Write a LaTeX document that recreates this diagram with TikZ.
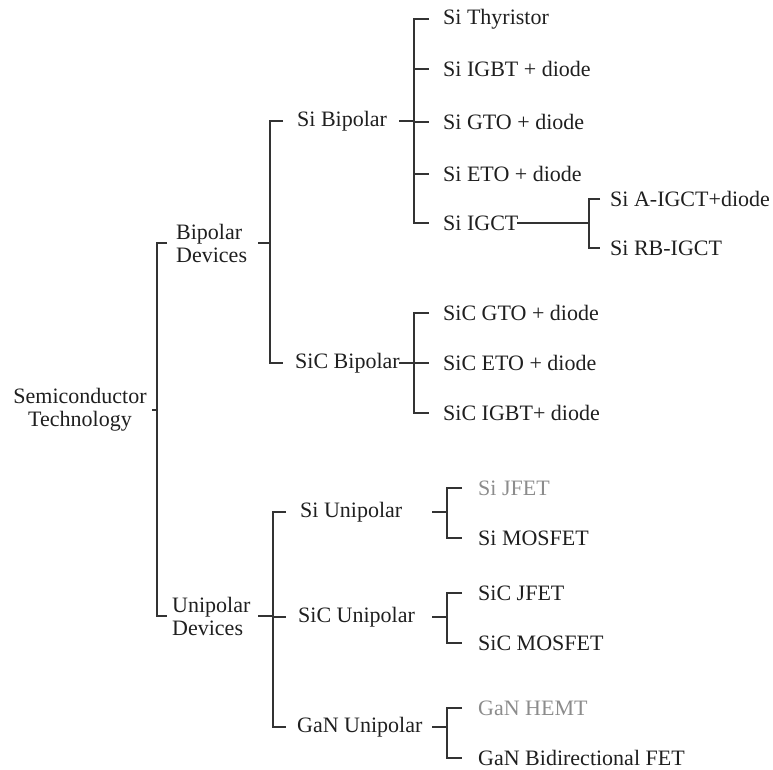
\documentclass[tikz,border=0pt]{standalone}
\usepackage{fontspec}
\setmainfont{Liberation Serif}
\begin{document}
\begin{tikzpicture}[x=1pt,y=-1pt,
  lbl/.style={anchor=west,inner sep=0pt,text=black!88,font=\fontsize{22}{23}\selectfont},
  two/.style={lbl,align=left},
  grey/.style={lbl,text=black!45},
  br/.style={draw=black!80,line width=1.2pt}]
\useasboundingbox (0,0) rectangle (773,770);
% nodes
\node[lbl,anchor=center,align=center] (root) at (80,410) {Semiconductor\\Technology};
\node[two] (bd) at (176,243) {Bipolar\\Devices};
\node[two] (ud) at (172,616) {Unipolar\\Devices};
\node[lbl] (sb) at (297,121) {Si Bipolar};
\node[lbl] (scb) at (295,363) {SiC Bipolar};
\node[lbl] (su) at (300,512) {Si Unipolar};
\node[lbl] (scu) at (298,617) {SiC Unipolar};
\node[lbl] (gu) at (297,727) {GaN Unipolar};
\node[lbl] (a1) at (443,19) {Si Thyristor};
\node[lbl] (a2) at (443,69) {Si IGBT + diode};
\node[lbl] (a3) at (443,122) {Si GTO + diode};
\node[lbl] (a4) at (443,174) {Si ETO + diode};
\node[lbl] (a5) at (443,223) {Si IGCT};
\node[lbl] (g1) at (610,199) {Si A-IGCT+diode};
\node[lbl] (g2) at (610,248) {Si RB-IGCT};
\node[lbl] (b1) at (443,313) {SiC GTO + diode};
\node[lbl] (b2) at (443,363) {SiC ETO + diode};
\node[lbl] (b3) at (443,413) {SiC IGBT+ diode};
\node[grey] (u1) at (478,488) {Si JFET};
\node[lbl] (u2) at (478,538) {Si MOSFET};
\node[lbl] (u3) at (478,593) {SiC JFET};
\node[lbl] (u4) at (478,643) {SiC MOSFET};
\node[grey] (u5) at (478,708) {GaN HEMT};
\node[lbl] (u6) at (478,758) {GaN Bidirectional FET};
% bracket columns
\coordinate (T0) at (152,0); \coordinate (J0) at (157,0); \coordinate (C0) at (167,0);
\coordinate (T1) at (258,0); \coordinate (J1) at (270,0); \coordinate (C1) at (283,0);
\coordinate (J4) at (273,0); \coordinate (C4) at (286,0);
\coordinate (T2) at (399,0); \coordinate (J2) at (414,0); \coordinate (C2) at (429,0);
\coordinate (T3) at (517,0); \coordinate (J3) at (589,0); \coordinate (C3) at (600,0);
\coordinate (T5) at (432,0); \coordinate (J5) at (447,0); \coordinate (C5) at (462,0);
% root
\draw[br] (T0 |- root.east) -- (J0 |- root.east);
\draw[br] (C0 |- bd.west) -- (J0 |- bd.west) -- (J0 |- ud.west) -- (C0 |- ud.west);
% bipolar devices
\draw[br] (T1 |- bd.east) -- (J1 |- bd.east);
\draw[br] (C1 |- sb.west) -- (J1 |- sb.west) -- (J1 |- scb.west) -- (C1 |- scb.west);
% unipolar devices
\draw[br] (T1 |- ud.east) -- (J4 |- ud.east);
\draw[br] (C4 |- su.west) -- (J4 |- su.west) -- (J4 |- gu.west) -- (C4 |- gu.west);
\draw[br] (J4 |- scu.west) -- (C4 |- scu.west);
% Si bipolar
\draw[br] (T2 |- sb.east) -- (J2 |- sb.east);
\draw[br] (C2 |- a1.west) -- (J2 |- a1.west) -- (J2 |- a5.west) -- (C2 |- a5.west);
\foreach \n in {a2,a3,a4} \draw[br] (J2 |- \n.west) -- (C2 |- \n.west);
% Si IGCT
\draw[br] (T3 |- a5.east) -- (J3 |- a5.east);
\draw[br] (C3 |- g1.west) -- (J3 |- g1.west) -- (J3 |- g2.west) -- (C3 |- g2.west);
% SiC bipolar
\draw[br] (T2 |- scb.east) -- (J2 |- scb.east);
\draw[br] (C2 |- b1.west) -- (J2 |- b1.west) -- (J2 |- b3.west) -- (C2 |- b3.west);
\draw[br] (J2 |- b2.west) -- (C2 |- b2.west);
% unipolar groups
\draw[br] (T5 |- su.east) -- (J5 |- su.east);
\draw[br] (C5 |- u1.west) -- (J5 |- u1.west) -- (J5 |- u2.west) -- (C5 |- u2.west);
\draw[br] (T5 |- scu.east) -- (J5 |- scu.east);
\draw[br] (C5 |- u3.west) -- (J5 |- u3.west) -- (J5 |- u4.west) -- (C5 |- u4.west);
\draw[br] (T5 |- gu.east) -- (J5 |- gu.east);
\draw[br] (C5 |- u5.west) -- (J5 |- u5.west) -- (J5 |- u6.west) -- (C5 |- u6.west);
\end{tikzpicture}
\end{document}
